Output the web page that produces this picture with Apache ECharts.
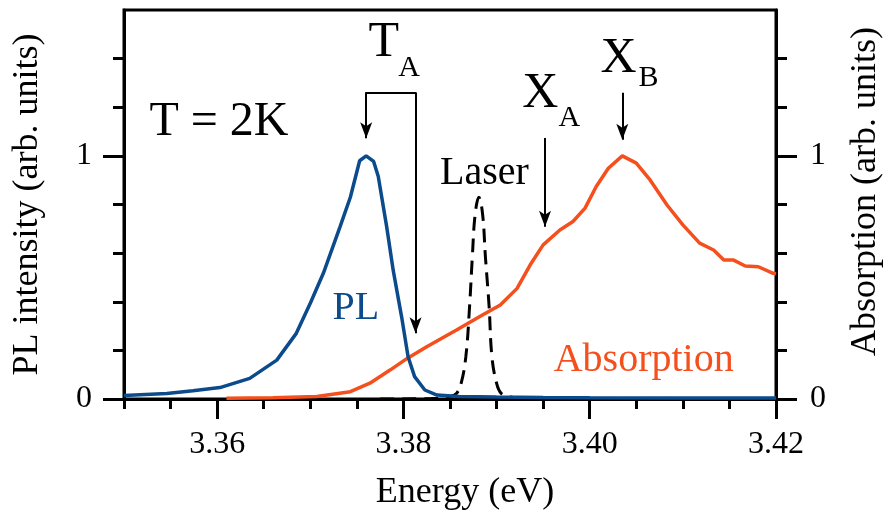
<!DOCTYPE html>
<html>
<head>
<meta charset="utf-8">
<script src="https://cdn.jsdelivr.net/npm/echarts@6/dist/echarts.min.js"></script>
<style>
  html, body { margin: 0; padding: 0; background: #fff; }
  #chart { width: 884px; height: 518px; }
  .font-warm { position: absolute; left: -9999px; top: 0; font-family: 'Liberation Serif'; font-size: 32px; }
</style>
</head>
<body>
<div class="font-warm">Energy 3.36 Absorption</div>
<div id="chart"></div>
<script>
// Photoluminescence spectrum (left axis)
const energyPL = [3.3500, 3.3546, 3.3574, 3.3603, 3.3635, 3.3664, 3.3685, 3.3700, 3.3714, 3.3732,
                  3.3743, 3.3753, 3.3760, 3.3768, 3.3773, 3.3782, 3.3789, 3.3798, 3.3805, 3.3812,
                  3.3823, 3.3836, 3.3860, 3.3900, 3.3950, 3.4000, 3.4100, 3.4200];
const plIntensity = [0.014, 0.023, 0.034, 0.047, 0.085, 0.160, 0.270, 0.394, 0.517, 0.709,
                     0.830, 0.980, 1.000, 0.977, 0.915, 0.709, 0.530, 0.339, 0.174, 0.092,
                     0.037, 0.016, 0.010, 0.008, 0.006, 0.005, 0.004, 0.004];

// Absorption spectrum (right axis)
const energyAbs = [3.3610, 3.3660, 3.3707, 3.3743, 3.3764, 3.3786, 3.3804, 3.3825, 3.3857, 3.3882,
                   3.3904, 3.3922, 3.3936, 3.3950, 3.3968, 3.3982, 3.3995, 3.4007, 3.4020, 3.4035,
                   3.4050, 3.4065, 3.4083, 3.4100, 3.4118, 3.4133, 3.4144, 3.4154, 3.4167, 3.4181,
                   3.4197, 3.4200];
const absorption = [0.003, 0.005, 0.010, 0.030, 0.065, 0.120, 0.167, 0.215, 0.284, 0.339,
                    0.387, 0.455, 0.551, 0.634, 0.695, 0.730, 0.785, 0.874, 0.949, 1.000,
                    0.970, 0.900, 0.798, 0.716, 0.641, 0.613, 0.572, 0.572, 0.547, 0.544,
                    0.517, 0.515];

// Excitation laser line (dashed, left axis)
const energyLaser = [3.3775, 3.3830, 3.3850, 3.3857, 3.3862, 3.3867, 3.3871, 3.3874, 3.3877, 3.3881,
                     3.3885, 3.3888, 3.3892, 3.3895, 3.3900, 3.3905, 3.3915, 3.3930];
const laser = [0.000, 0.002, 0.010, 0.023, 0.065, 0.174, 0.380, 0.586, 0.760, 0.830,
               0.760, 0.586, 0.380, 0.174, 0.065, 0.023, 0.008, 0.002];

// Axis ticks
const xMajorTicks = [3.36, 3.38, 3.40, 3.42];
const xMinorTicks = [3.350, 3.355, 3.365, 3.370, 3.375, 3.385, 3.390, 3.395, 3.405, 3.410, 3.415];
const yMajorTicks = [0, 1];
const yMinorTicks = [0.2, 0.4, 0.6, 0.8, 1.2, 1.4];

const FONT = 'Liberation Serif';
const BLUE = '#0b4b8c';
const ORANGE = '#f44f1c';

const zip = (xs, ys) => xs.map((x, i) => [x, ys[i]]);

function draw() {
  const chart = echarts.init(document.getElementById('chart'));

  const xBase = {
    type: 'value', min: 3.35, max: 3.42, position: 'bottom',
    splitLine: { show: false }
  };
  const yBase = {
    type: 'value', min: 0, max: 1.6,
    splitLine: { show: false }
  };
  const lineStyleAxis = { color: '#000', width: 3 };
  const tickStyle = { color: '#000', width: 3 };

  chart.setOption({
    animation: false,
    textStyle: { fontFamily: FONT },
    grid: {
      left: 124, right: 108, top: 10, bottom: 119,
      outerBoundsMode: 'none', containLabel: false,
      show: true, borderColor: '#000', borderWidth: 3, backgroundColor: 'transparent'
    },
    xAxis: [
      Object.assign({}, xBase, {
        axisLine: { show: true, onZero: false, lineStyle: lineStyleAxis },
        axisTick: { show: true, customValues: xMajorTicks, length: 20, lineStyle: tickStyle },
        axisLabel: {
          customValues: xMajorTicks, margin: 30,
          formatter: v => v.toFixed(2),
          fontFamily: FONT, fontSize: 32, color: '#000'
        },
        name: 'Energy (eV)', nameLocation: 'middle', nameGap: 76,
        nameTextStyle: { fontFamily: FONT, fontSize: 36, color: '#000', padding: [0, 0, 0, 30] }
      }),
      Object.assign({}, xBase, {
        axisLine: { show: false, onZero: false },
        axisTick: { show: true, customValues: xMinorTicks, length: 10, lineStyle: tickStyle },
        axisLabel: { show: false }
      })
    ],
    yAxis: [
      Object.assign({}, yBase, {
        position: 'left',
        axisLine: { show: true, lineStyle: lineStyleAxis },
        axisTick: { show: true, customValues: yMajorTicks, length: 21, lineStyle: tickStyle },
        axisLabel: { customValues: yMajorTicks, margin: 32, fontFamily: FONT, fontSize: 32, color: '#000' },
        name: 'PL intensity (arb. units)', nameLocation: 'middle', nameGap: 78,
        nameTextStyle: { fontFamily: FONT, fontSize: 36, color: '#000' }
      }),
      Object.assign({}, yBase, {
        position: 'left',
        axisLine: { show: false },
        axisTick: { show: true, customValues: yMinorTicks, length: 11, lineStyle: tickStyle },
        axisLabel: { show: false }
      }),
      Object.assign({}, yBase, {
        position: 'right',
        axisLine: { show: true, lineStyle: lineStyleAxis },
        axisTick: { show: true, customValues: yMajorTicks, length: 21, lineStyle: tickStyle },
        axisLabel: { customValues: yMajorTicks, margin: 34, fontFamily: FONT, fontSize: 32, color: '#000' },
        name: 'Absorption (arb. units)', nameLocation: 'middle', nameGap: 72,
        nameTextStyle: { fontFamily: FONT, fontSize: 36, color: '#000', padding: [0, 0, 0, 26] }
      }),
      Object.assign({}, yBase, {
        position: 'right',
        axisLine: { show: false },
        axisTick: { show: true, customValues: yMinorTicks, length: 11, lineStyle: tickStyle },
        axisLabel: { show: false }
      })
    ],
    series: [
      {
        name: 'Laser', type: 'line', xAxisIndex: 0, yAxisIndex: 0,
        data: zip(energyLaser, laser), showSymbol: false, smooth: 0.4,
        lineStyle: { color: '#000', width: 3, type: [14, 8] }, z: 3
      },
      {
        name: 'Absorption', type: 'line', xAxisIndex: 0, yAxisIndex: 2,
        data: zip(energyAbs, absorption), showSymbol: false,
        lineStyle: { color: ORANGE, width: 3.5 }, z: 4
      },
      {
        name: 'PL', type: 'line', xAxisIndex: 0, yAxisIndex: 0,
        data: zip(energyPL, plIntensity), showSymbol: false,
        lineStyle: { color: BLUE, width: 3.5 }, z: 5,
        markLine: {
          silent: true, animation: false,
          label: { show: false },
          lineStyle: { color: '#000', width: 2, type: 'solid' },
          symbolSize: [9, 16],
          data: [
            // T_A: bracket with two downward arrows
            [{ coord: [3.3760, 1.26], symbol: 'none' }, { coord: [3.3760, 1.072], symbol: 'arrow' }],
            [{ coord: [3.3759, 1.26], symbol: 'none' }, { coord: [3.3814, 1.26], symbol: 'none' }],
            [{ coord: [3.3813, 1.26], symbol: 'none' }, { coord: [3.3813, 0.27], symbol: 'arrow' }],
            // X_A
            [{ coord: [3.3952, 1.074], symbol: 'none' }, { coord: [3.3952, 0.708], symbol: 'arrow' }],
            // X_B
            [{ coord: [3.4035, 1.26], symbol: 'none' }, { coord: [3.4035, 1.066], symbol: 'arrow' }]
          ]
        }
      }
    ]
  });

  // Text annotations anchored in data coordinates
  const annotations = [
    { text: 'T = 2K', at: [3.3602, 1.136], size: 48, color: '#000' },
    { text: 'T', at: [3.3779, 1.463], size: 50, color: '#000' },
    { text: 'A', at: [3.3806, 1.362], size: 30, color: '#000' },
    { text: 'X', at: [3.3947, 1.257], size: 50, color: '#000' },
    { text: 'A', at: [3.3978, 1.154], size: 30, color: '#000' },
    { text: 'X', at: [3.4031, 1.399], size: 50, color: '#000' },
    { text: 'B', at: [3.4063, 1.321], size: 30, color: '#000' },
    { text: 'Laser', at: [3.3887, 0.926], size: 40, color: '#000' },
    { text: 'PL', at: [3.3749, 0.372], size: 40, color: BLUE },
    { text: 'Absorption', at: [3.4058, 0.160], size: 40, color: ORANGE }
  ];

  chart.setOption({
    graphic: annotations.map(a => {
      const p = chart.convertToPixel({ xAxisIndex: 0, yAxisIndex: 0 }, a.at);
      return {
        type: 'text', silent: true, z: 10,
        style: {
          x: p[0], y: p[1], text: a.text,
          fontFamily: FONT, fontSize: a.size,
          fill: a.color, align: 'center', verticalAlign: 'middle'
        }
      };
    })
  });
}

// Make sure the serif face is ready before the canvas draws any text
if (document.fonts && document.fonts.load) {
  document.fonts.load('32px "Liberation Serif"').then(draw, draw);
} else {
  draw();
}
</script>
</body>
</html>
